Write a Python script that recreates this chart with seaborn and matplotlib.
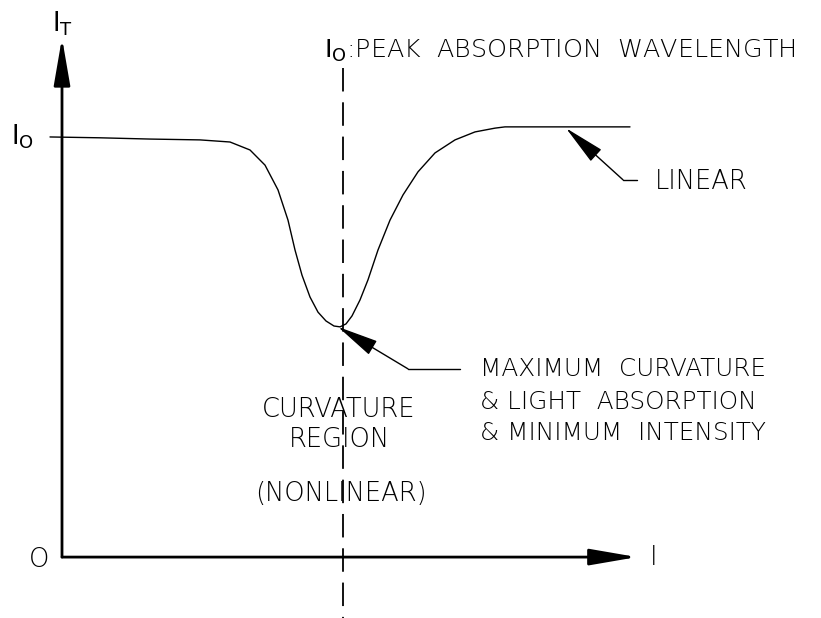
import numpy as np
import pandas as pd
import matplotlib
matplotlib.use("Agg")
import matplotlib.pyplot as plt
import seaborn as sns

# transmitted intensity I_T vs wavelength (I_0 = 1, arbitrary wavelength units)
wavelength = [-0.12, 0.38, 0.88, 1.38, 1.68, 1.88, 2.03, 2.16, 2.26, 2.33, 2.40, 2.48,
              2.56, 2.64, 2.72, 2.78, 2.84, 2.90, 2.98, 3.06, 3.16, 3.28, 3.41, 3.56,
              3.73, 3.93, 4.13, 4.33, 4.43, 5.68]
intensity = [1.000, 0.998, 0.995, 0.993, 0.988, 0.969, 0.933, 0.874, 0.802, 0.731, 0.671, 0.619,
             0.583, 0.562, 0.550, 0.548, 0.555, 0.574, 0.612, 0.660, 0.731, 0.802, 0.862, 0.917,
             0.962, 0.993, 1.012, 1.021, 1.024, 1.024]
peak_wl = 2.81

df = pd.DataFrame({"wl": wavelength, "it": intensity})

sns.set_theme(style="white")
plt.rcParams["font.family"] = ["DejaVu Sans"]
plt.rcParams["mathtext.fontset"] = "dejavusans"

fig = plt.figure(figsize=(8.21, 6.18), dpi=100)
ax = fig.add_axes([0, 0, 1, 1])
ax.set_xlim(-0.62, 7.59)
ax.set_ylim(-0.145, 1.326)
ax.axis("off")

fs = 18.5
tkw = dict(fontsize=fs, color="black", fontweight="light")

# curve
sns.lineplot(data=df, x="wl", y="it", sort=False, estimator=None, color="black", lw=1.0, ax=ax)

# axes with arrow heads
arr = dict(arrowstyle="-|>,head_length=2.9,head_width=0.5", mutation_scale=10, color="black", lw=2,
           shrinkA=0, shrinkB=0)
ax.annotate("", xy=(0, 1.236), xytext=(0, 0), arrowprops=arr)
ax.annotate("", xy=(5.75, 0), xytext=(0, 0), arrowprops=arr)

# peak absorption wavelength (dashed)
ax.plot([peak_wl, peak_wl], [1.164, -0.145], color="black", lw=1.3, linestyle=(0, (13, 6)))

# axis labels
ax.text(0, 1.27, r"$\mathrm{I_T}$", ha="center", va="center", **tkw)
ax.text(-0.40, 1.0, r"$\mathrm{I_O}$", ha="center", va="center", **tkw)
ax.text(-0.23, -0.005, "O", ha="center", va="center", **tkw)
ax.text(5.92, 0, "I", ha="center", va="center", **tkw)
ax.text(2.62, 1.205, r"$\mathrm{I_O}$:PEAK  ABSORPTION  WAVELENGTH", ha="left", va="center",
        fontsize=18.3, color="black", fontweight="light")

# annotations
ann = dict(arrowstyle="-|>,head_length=2.6,head_width=0.5", mutation_scale=10, color="black", lw=1.0,
           shrinkA=0, shrinkB=0)
ax.annotate("", xy=(5.04, 1.021), xytext=(5.61, 0.898), arrowprops=ann)
ax.plot([5.61, 5.75], [0.898, 0.898], color="black", lw=1.0)
ax.text(5.93, 0.895, "LINEAR", ha="left", va="center", **tkw)

ax.annotate("", xy=(2.76, 0.548), xytext=(3.46, 0.448), arrowprops=ann)
ax.plot([3.46, 3.98], [0.448, 0.448], color="black", lw=1.0)
ax.text(4.18, 0.448, "MAXIMUM  CURVATURE", ha="left", va="center", fontsize=17.8, color="black", fontweight="light")
ax.text(4.18, 0.369, "& LIGHT  ABSORPTION", ha="left", va="center", fontsize=17.8, color="black", fontweight="light")
ax.text(4.18, 0.295, "& MINIMUM  INTENSITY", ha="left", va="center", fontsize=17.8, color="black", fontweight="light")

ax.text(2.77, 0.352, "CURVATURE", ha="center", va="center", **tkw)
ax.text(2.77, 0.281, "REGION", ha="center", va="center", **tkw)
ax.text(2.79, 0.152, "(NONLINEAR)", ha="center", va="center", **tkw)

fig.savefig("out.png", dpi=100)
